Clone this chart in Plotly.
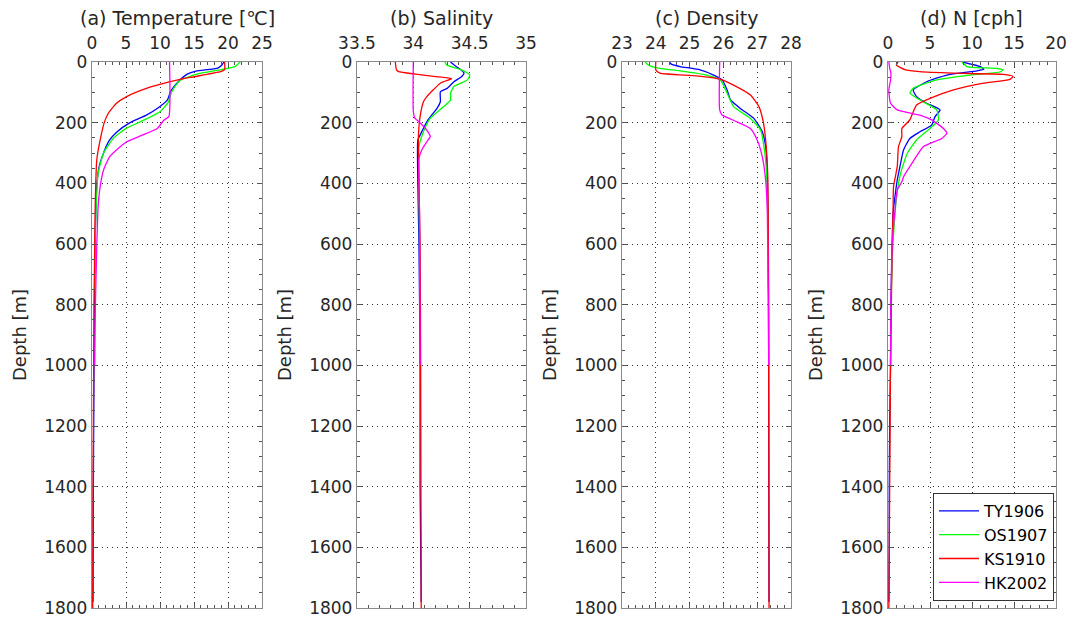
import plotly.graph_objects as go

# ---------------- data ----------------
SERIES = ["TY1906", "OS1907", "KS1910", "HK2002"]
COLORS = ["#0000FF", "#00FF00", "#FF0000", "#FF00FF"]

# (a) Temperature [degC]
T_TY_d = [0, 10, 20, 30, 40, 60, 80, 100, 125, 150, 175, 200, 230, 260, 300, 350, 410, 500, 600, 800, 1000, 1400, 1780]
T_TY_v = [19.4, 19.1, 18.5, 15.3, 14.0, 12.9, 12.1, 11.5, 11.1, 9.8, 8.0, 5.6, 3.7, 2.5, 1.7, 1.0, 0.7, 0.55, 0.45, 0.35, 0.3, 0.2, 0.15]
T_OS_d = [0, 15, 25, 40, 60, 80, 100, 133, 164, 191, 219, 250, 300, 367, 450, 550, 750]
T_OS_v = [21.8, 21.0, 19.0, 15.4, 13.0, 12.2, 11.7, 11.2, 10.0, 7.7, 5.0, 3.2, 1.7, 0.9, 0.65, 0.5, 0.38]
T_KS_d = [0, 25, 32, 51, 65, 87, 114, 136, 169, 200, 257, 323, 400, 500, 600, 800, 1000, 1400, 1800]
T_KS_v = [19.5, 19.5, 18.9, 14.4, 11.5, 8.0, 5.1, 3.6, 2.4, 1.8, 1.2, 0.7, 0.55, 0.45, 0.4, 0.3, 0.25, 0.15, 0.1]
T_HK_d = [0, 180, 191, 219, 240, 263, 290, 312, 356, 411, 477, 609, 800, 1000]
T_HK_v = [11.4, 11.3, 10.6, 9.6, 7.5, 5.1, 3.6, 2.6, 1.7, 1.2, 0.9, 0.7, 0.5, 0.4]

# (b) Salinity
S_TY_d = [0, 15, 25, 37, 48, 65, 87, 98, 131, 153, 191, 241, 257, 400, 600, 1000, 1400, 1780]
S_TY_v = [34.33, 34.38, 34.42, 34.45, 34.43, 34.36, 34.30, 34.24, 34.24, 34.21, 34.13, 34.06, 34.04, 34.04, 34.05, 34.06, 34.06, 34.07]
S_OS_d = [0, 11, 25, 43, 59, 81, 103, 125, 147, 186, 230, 279, 400, 750]
S_OS_v = [34.28, 34.30, 34.42, 34.50, 34.48, 34.36, 34.33, 34.33, 34.27, 34.15, 34.09, 34.05, 34.05, 34.06]
S_KS_d = [0, 25, 32, 40, 48, 55, 70, 114, 131, 180, 246, 400, 600, 1000, 1800]
S_KS_v = [33.84, 33.85, 33.87, 34.02, 34.20, 34.34, 34.24, 34.12, 34.09, 34.06, 34.045, 34.05, 34.06, 34.065, 34.07]
S_HK_d = [0, 164, 186, 197, 230, 246, 263, 290, 318, 500, 1000]
S_HK_v = [34.0, 34.0, 34.015, 34.05, 34.13, 34.15, 34.12, 34.075, 34.05, 34.055, 34.06]

# (c) Density
D_TY_d = [0, 8, 15, 26, 43, 59, 92, 125, 153, 186, 230, 279, 367, 600, 1000, 1780]
D_TY_v = [24.40, 24.47, 24.72, 25.31, 25.71, 25.96, 26.11, 26.21, 26.50, 26.90, 27.15, 27.25, 27.30, 27.33, 27.34, 27.35]
D_OS_d = [0, 13, 21, 29, 43, 59, 103, 147, 186, 224, 279, 367, 500, 750]
D_OS_v = [23.68, 23.82, 24.12, 24.72, 25.51, 25.91, 26.11, 26.30, 26.80, 27.10, 27.20, 27.28, 27.31, 27.33]
D_KS_d = [0, 26, 37, 46, 57, 76, 109, 147, 197, 257, 367, 600, 1000, 1800]
D_KS_v = [24.0, 24.0, 24.12, 25.21, 25.91, 26.30, 26.80, 27.05, 27.18, 27.25, 27.31, 27.33, 27.34, 27.35]
D_HK_d = [0, 158, 175, 197, 219, 257, 312, 389, 500, 800, 1000]
D_HK_v = [25.89, 25.89, 25.96, 26.40, 26.80, 27.00, 27.15, 27.25, 27.30, 27.33, 27.34]

# (d) N [cph]
N_TY_d = [0, 15, 24, 29, 43, 65, 92, 114, 136, 158, 180, 208, 230, 252, 290, 334, 389, 450, 500, 600, 800, 1000, 1200, 1400, 1600, 1780]
N_TY_v = [8.8, 11.0, 11.4, 10.6, 7.0, 4.6, 3.0, 3.4, 4.6, 6.2, 5.6, 5.2, 3.8, 2.6, 1.85, 1.5, 1.1, 0.8, 0.6, 0.5, 0.35, 0.3, 0.2, 0.15, 0.15, 0.1]
N_OS_d = [0, 15, 21, 26, 33, 43, 59, 87, 103, 125, 158, 191, 219, 257, 301, 367, 450, 550, 650, 750]
N_OS_v = [8.8, 9.4, 12.9, 13.7, 13.3, 9.8, 5.8, 3.0, 2.6, 3.8, 5.8, 6.0, 5.0, 3.4, 2.3, 1.5, 1.0, 0.7, 0.5, 0.4]
N_KS_d = [0, 10, 25, 32, 37, 41, 48, 57, 70, 92, 120, 142, 175, 191, 219, 246, 279, 345, 411, 500, 600, 800, 1000, 1200, 1400, 1600, 1800]
N_KS_v = [1.2, 1.0, 2.0, 3.8, 7.8, 13.7, 14.9, 14.5, 11.4, 7.8, 5.0, 3.4, 2.85, 2.6, 1.65, 1.65, 1.25, 1.1, 0.66, 0.6, 0.5, 0.4, 0.3, 0.25, 0.2, 0.15, 0.1]
N_HK_d = [0, 20, 37, 60, 92, 136, 158, 175, 191, 219, 235, 252, 279, 334, 378, 395, 422, 500, 600, 800, 1000]
N_HK_v = [0.1, 0.2, 0.35, 0.3, 0.1, 0.3, 1.1, 3.8, 5.2, 6.6, 7.0, 6.4, 4.2, 2.85, 1.85, 1.65, 1.1, 0.8, 0.5, 0.35, 0.3]

PANELS = [
    ("(a) Temperature [℃]", [0, 25], 5, 1,
     [(T_TY_d, T_TY_v), (T_OS_d, T_OS_v), (T_KS_d, T_KS_v), (T_HK_d, T_HK_v)]),
    ("(b) Salinity", [33.5, 35], 0.5, 0.1,
     [(S_TY_d, S_TY_v), (S_OS_d, S_OS_v), (S_KS_d, S_KS_v), (S_HK_d, S_HK_v)]),
    ("(c) Density", [23, 28], 1, 0.2,
     [(D_TY_d, D_TY_v), (D_OS_d, D_OS_v), (D_KS_d, D_KS_v), (D_HK_d, D_HK_v)]),
    ("(d) N [cph]", [0, 20], 5, 1,
     [(N_TY_d, N_TY_v), (N_OS_d, N_OS_v), (N_KS_d, N_KS_v), (N_HK_d, N_HK_v)]),
]
DEPTH_RANGE = [1800, 0]

# ---------------- layout geometry (pixels) ----------------
W, H = 1073, 621
X_PIX = [(92, 262), (357, 526), (622, 791), (888, 1056)]
Y_TOP, Y_BOT = 62, 608
FONT = "DejaVu Sans"
TXT = "#262626"
AX = "#8a8a8a"

fig = go.Figure()
layout = dict(
    template="none",
    width=W, height=H,
    margin=dict(l=0, r=0, t=0, b=0, autoexpand=False),
    paper_bgcolor="white", plot_bgcolor="white",
    font=dict(family=FONT, size=17, color=TXT),
    showlegend=True,
    legend=dict(
        x=1054 / W, y=1 - 601 / H, xanchor="right", yanchor="bottom",
        bgcolor="white", bordercolor="#333", borderwidth=1,
        font=dict(family=FONT, size=16, color="black"),
        tracegroupgap=0, itemwidth=40,
    ),
    annotations=[],
)

for i, (title, xr, dt, mdt, data) in enumerate(PANELS):
    n = "" if i == 0 else str(i + 1)
    x0, x1 = X_PIX[i]
    for j, (d, v) in enumerate(data):
        fig.add_trace(go.Scatter(
            x=v, y=d, mode="lines",
            line=dict(color=COLORS[j], width=1.3, shape="spline", smoothing=0.5),
            name=SERIES[j], legendgroup=SERIES[j], showlegend=(i == 3),
            xaxis="x" + n, yaxis="y" + n,
        ))
    common = dict(
        showline=True, linecolor=AX, linewidth=1.3, mirror="ticks",
        ticks="inside", ticklen=5, tickcolor="#555", tickwidth=1,
        showgrid=True, gridcolor="#333", griddash="1px,4px", gridwidth=1,
        zeroline=False, automargin=False,
        tickfont=dict(family=FONT, size=17, color=TXT),
    )
    layout["xaxis" + n] = dict(
        common, domain=[x0 / W, x1 / W], range=xr, dtick=dt, tick0=xr[0],
        side="top", anchor="y" + n, ticklabelstandoff=5,
        minor=dict(dtick=mdt, ticks="inside", ticklen=3, tickcolor="#555", showgrid=False),
    )
    layout["yaxis" + n] = dict(
        common, domain=[1 - Y_BOT / H, 1 - Y_TOP / H], range=DEPTH_RANGE,
        dtick=200, tick0=0, anchor="x" + n,
        minor=dict(dtick=50, ticks="inside", ticklen=3, tickcolor="#555", showgrid=False),
    )
    layout["annotations"].append(dict(
        text=title, xref="paper", yref="paper", x=(x0 + x1) / 2 / W, y=1 - 18 / H,
        xanchor="center", yanchor="middle", showarrow=False,
        font=dict(family=FONT, size=19, color=TXT),
    ))
    layout["annotations"].append(dict(
        text="Depth [m]", xref="paper", yref="paper", x=(x0 - 72) / W,
        y=1 - (Y_TOP + Y_BOT) / 2 / H, textangle=-90,
        xanchor="center", yanchor="middle", showarrow=False,
        font=dict(family=FONT, size=18, color=TXT),
    ))

fig.update_layout(**layout)
fig.write_html("out.html")
